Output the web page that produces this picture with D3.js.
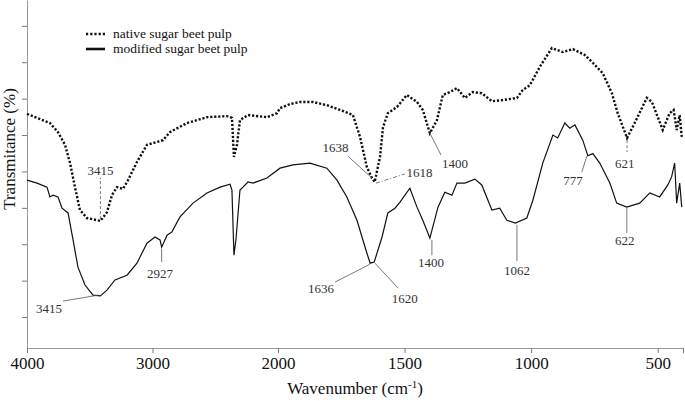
<!DOCTYPE html>
<html>
  <head>
    <meta charset="utf-8">
    <title>FTIR sugar beet pulp</title>
    <script src="https://cdn.jsdelivr.net/npm/d3@7"></script>
    <style type="text/css">
      body { margin: 0; background: #fff; }
      svg text { font-family: "Liberation Serif", "Times New Roman", serif; }
    </style>
  </head>
  <body>
    <script>
    // spectra (wavenumber cm-1, transmittance in arbitrary %)
    var nativeWn = [4000, 3817, 3753, 3697, 3657, 3618, 3578, 3522, 3415, 3363, 3323, 3283, 3235, 3195, 3124, 3044,
      2964, 2916, 2861, 2725, 2566, 2406, 2367, 2351, 2337, 2327, 2303, 2239, 2088, 2008, 1992, 1953, 1913, 1862,
      1807, 1755, 1704, 1676, 1649, 1629, 1618, 1597, 1585, 1566, 1530, 1491, 1451, 1428, 1400, 1372, 1349, 1321,
      1293, 1262, 1230, 1195, 1155, 1112, 1056, 1033, 1005, 966, 918, 875, 835, 788, 756, 717, 681, 658, 621, 591,
      543, 523, 480, 453, 437, 425, 413, 405];
    var nativeT = [65.8, 63.3, 60.8, 57.3, 52.3, 45.7, 39.4, 37.2, 36.4, 38.8, 43.5, 45.7, 45.2, 47.6, 52.6, 57.3,
      58.1, 58.6, 60.8, 63.3, 64.9, 65.2, 64.7, 54.0, 56.0, 57.3, 64.1, 65.5, 64.9, 66.0, 67.4, 68.5, 69.1, 69.1,
      68.2, 66.9, 65.5, 59.5, 51.2, 48.2, 47.1, 54.0, 62.2, 66.0, 67.7, 71.0, 69.1, 66.9, 60.5, 64.1, 71.0, 71.8,
      72.9, 70.2, 71.8, 71.5, 69.3, 69.6, 70.2, 72.4, 73.7, 78.7, 83.9, 82.8, 83.6, 82.0, 79.8, 77.0, 71.5, 66.0,
      59.2, 63.3, 70.2, 69.1, 61.4, 66.0, 66.9, 61.4, 65.5, 59.5];

    var modifiedWn = [4000, 3920, 3841, 3817, 3793, 3753, 3721, 3673, 3633, 3594, 3538, 3474, 3415, 3363, 3299, 3203,
      3124, 3044, 2980, 2940, 2927, 2884, 2845, 2781, 2677, 2566, 2462, 2382, 2367, 2351, 2335, 2303, 2279, 2239,
      2199, 2088, 1992, 1941, 1874, 1807, 1767, 1728, 1688, 1649, 1636, 1620, 1589, 1566, 1538, 1518, 1479, 1451,
      1428, 1400, 1368, 1341, 1313, 1293, 1262, 1222, 1195, 1155, 1124, 1096, 1062, 1017, 993, 954, 914, 895, 867,
      847, 827, 796, 776, 756, 729, 689, 662, 622, 571, 531, 492, 460, 445, 433, 425, 413, 405];
    var modifiedT = [47.6, 46.8, 45.7, 43.0, 43.5, 43.0, 39.9, 38.6, 31.2, 23.7, 18.8, 16.0, 15.8, 17.4, 20.2, 21.5,
      24.8, 30.3, 32.0, 31.2, 29.2, 32.5, 33.4, 37.5, 41.3, 44.1, 45.7, 46.5, 44.9, 27.0, 31.3, 44.9, 45.7, 47.1,
      46.8, 48.2, 50.9, 51.8, 52.3, 50.9, 47.6, 43.0, 36.6, 27.6, 24.8, 25.1, 32.0, 38.6, 39.9, 41.6, 45.4, 40.2,
      36.6, 31.7, 40.2, 44.3, 43.5, 46.8, 46.8, 47.9, 46.3, 39.4, 39.9, 36.6, 35.8, 37.2, 42.1, 52.3, 60.0, 59.2, 63.3,
      61.9, 62.8, 58.6, 54.3, 54.9, 52.3, 46.8, 41.3, 40.2, 41.3, 44.1, 43.0, 46.3, 48.5, 52.3, 41.3, 46.8, 40.2];

    var xTicks = [4000, 3000, 2000, 1500, 1000, 500, 400];
    var yTicks = [10, 20, 30, 40, 50, 60, 70, 80, 90];
    var seriesNames = ["native sugar beet pulp", "modified sugar beet pulp"];

    // peak labels: text, peak point, leader end near label, label anchor (all in data units)
    var annText  = ["3415", "1638", "1618", "1400", "621", "3415", "2927", "1636", "1620", "1400", "1062", "777", "622"];
    var annPeak  = [[3415, 36.9], [1629, 48.2], [1613, 46.8], [1396, 60.0], [621, 58.6],
                    [3434, 16.0], [2927, 28.7], [1637, 24.5], [1617, 24.8], [1392, 31.2], [1056, 35.3], [780, 54.2], [622, 40.0]];
    var annEnd   = [[3415, 48.2], [1724, 54.2], [1499, 49.3], [1356, 54.5], [621, 55.3],
                    [3713, 14.4], [2927, 25.1], [1775, 19.6], [1526, 18.0], [1392, 27.0], [1056, 25.4], [800, 49.8], [622, 33.1]];
    var annLabel = [[3415, 49.0], [1773, 55.3], [1441, 48.5], [1301, 50.9], [630, 50.9],
                    [3825, 11.1], [2940, 20.7], [1830, 16.6], [1499, 13.8], [1396, 23.7], [1056, 21.5], [835, 46.3], [630, 29.8]];
    var annDash  = ["3,2", null, "4,2,1,2", null, "3,2", null, null, null, null, null, null, null, null];

    var width = 685, height = 401;

    var svg = d3.select("body")
      .append("svg")
        .attr("width", width)
        .attr("height", height);

    // the wavenumber axis changes scale at 2000
    var x = d3.scaleLinear()
      .domain([4000, 2000, 400])
      .range([27, 278, 683]);

    var y = d3.scaleLinear()
      .domain([1.5, 97.1])
      .range([348, 0]);

    // axes
    var xAxis = svg.append("g")
      .attr("transform", "translate(0,348)")
      .call(d3.axisBottom(x)
        .tickValues(xTicks)
        .tickFormat(function(d) { return d === 400 ? "" : d; })
        .tickSize(5)
        .tickSizeOuter(0));
    xAxis.select(".domain").attr("stroke", "#9a9a9a");
    xAxis.selectAll(".tick line").attr("stroke", "#777");
    xAxis.selectAll(".tick text")
      .attr("y", 9)
      .attr("fill", "#111")
      .style("font-size", "17px")
      .style("font-family", "'Liberation Serif', serif");

    var yAxis = svg.append("g")
      .attr("transform", "translate(27,0)")
      .call(d3.axisLeft(y)
        .tickValues(yTicks)
        .tickFormat("")
        .tickSize(5)
        .tickSizeOuter(0));
    yAxis.select(".domain").attr("stroke", "#9a9a9a");
    yAxis.selectAll(".tick line").attr("stroke", "#777");

    svg.append("text")
      .attr("x", 355)
      .attr("y", 394)
      .attr("text-anchor", "middle")
      .style("font-size", "17px")
      .attr("fill", "#111")
      .text("Wavenumber (cm")
      .append("tspan")
        .attr("dy", -6)
        .style("font-size", "11px")
        .text("-1")
      .select(function() { return this.parentNode; })
      .append("tspan")
        .attr("dy", 6)
        .text(")");

    svg.append("text")
      .attr("transform", "translate(14.5,149) rotate(-90)")
      .attr("text-anchor", "middle")
      .style("font-size", "17px")
      .attr("fill", "#111")
      .text("Transmitance (%)");

    // spectra
    var line = d3.line()
      .x(function(d) { return x(d[0]); })
      .y(function(d) { return y(d[1]); });

    var nativeData = d3.zip(nativeWn, nativeT);
    var modifiedData = d3.zip(modifiedWn, modifiedT);

    svg.append("path")
      .datum(modifiedData)
      .attr("fill", "none")
      .attr("stroke", "#111")
      .attr("stroke-width", 1.2)
      .attr("d", line);

    svg.append("path")
      .datum(nativeData)
      .attr("fill", "none")
      .attr("stroke", "#111")
      .attr("stroke-width", 2.4)
      .attr("stroke-dasharray", "2.2,1.8")
      .attr("d", line);

    // peak annotations
    var ann = svg.selectAll(".ann")
      .data(annText)
      .enter()
      .append("g")
      .attr("class", "ann");

    ann.append("line")
      .attr("x1", function(d, i) { return x(annPeak[i][0]); })
      .attr("y1", function(d, i) { return y(annPeak[i][1]); })
      .attr("x2", function(d, i) { return x(annEnd[i][0]); })
      .attr("y2", function(d, i) { return y(annEnd[i][1]); })
      .attr("stroke", "#555")
      .attr("stroke-width", 0.8)
      .attr("stroke-dasharray", function(d, i) { return annDash[i]; });

    ann.append("text")
      .attr("x", function(d, i) { return x(annLabel[i][0]); })
      .attr("y", function(d, i) { return y(annLabel[i][1]); })
      .attr("text-anchor", "middle")
      .style("font-size", "13px")
      .attr("fill", "#333")
      .text(function(d) { return d; });

    // legend
    var legend = svg.append("g").attr("transform", "translate(86,34)");
    legend.append("line")
      .attr("x1", 0).attr("x2", 19).attr("y1", 0).attr("y2", 0)
      .attr("stroke", "#111").attr("stroke-width", 2.6)
      .attr("stroke-dasharray", "2.2,2");
    legend.append("line")
      .attr("x1", 0).attr("x2", 19).attr("y1", 15).attr("y2", 15)
      .attr("stroke", "#111").attr("stroke-width", 2.6);
    legend.selectAll("text")
      .data(seriesNames)
      .enter()
      .append("text")
      .attr("x", 27)
      .attr("y", function(d, i) { return 4 + i * 15; })
      .style("font-size", "13.5px")
      .attr("fill", "#111")
      .text(function(d) { return d; });

    </script>
  </body>
</html>
